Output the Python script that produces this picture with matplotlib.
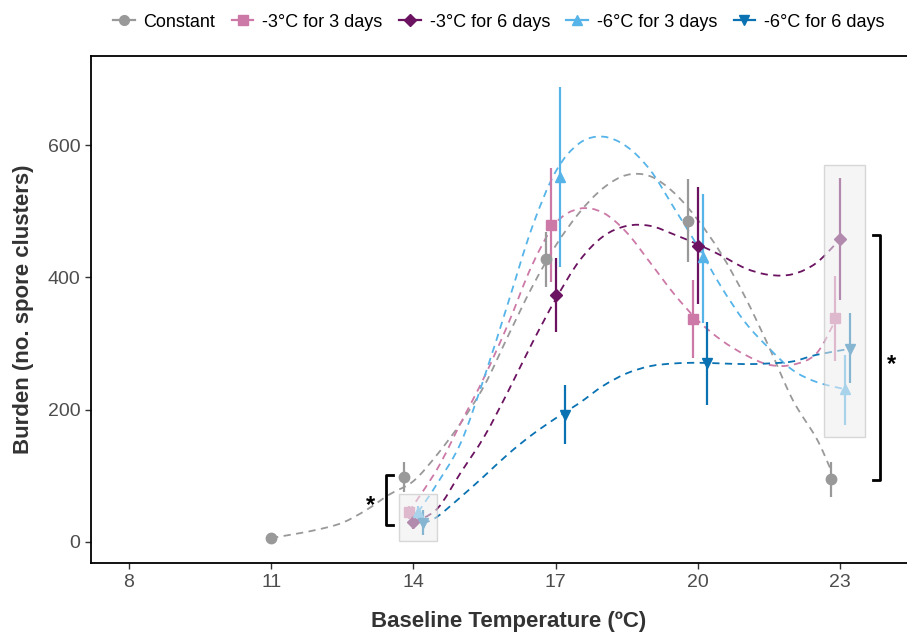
import numpy as np
import matplotlib
matplotlib.use("Agg")
import matplotlib.pyplot as plt
from matplotlib.lines import Line2D
from matplotlib.patches import Rectangle, PathPatch
from matplotlib.path import Path

plt.rcParams["font.family"] = ["Liberation Sans", "DejaVu Sans"]

# data
temps = [11, 14, 17, 20, 23]
groups = ["Constant", "-3°C for 3 days", "-3°C for 6 days", "-6°C for 3 days", "-6°C for 6 days"]
colors = ["#999999", "#CC79A7", "#6B1260", "#56B4E9", "#0A72B2"]
markers = ["o", "s", "D", "^", "v"]

const_mean = [6, 98, 428, 485, 95]
const_lo = [1, 76, 385, 423, 68]
const_hi = [11, 121, 469, 549, 121]

c3d3_mean = [45, 479, 337, 338]
c3d3_lo = [35, 393, 278, 274]
c3d3_hi = [55, 565, 396, 402]

c3d6_mean = [30, 373, 447, 458]
c3d6_lo = [20, 317, 360, 366]
c3d6_hi = [40, 429, 537, 551]

c6d3_mean = [45, 552, 431, 231]
c6d3_lo = [35, 416, 331, 177]
c6d3_hi = [55, 688, 527, 283]

c6d6_mean = [28, 192, 270, 292]
c6d6_lo = [10, 148, 207, 240]
c6d6_hi = [48, 237, 333, 346]

# smoothed trend lines
const_cx = [11, 11.5, 12, 12.5, 13, 13.5, 14, 14.5, 15, 15.5, 16, 16.5, 17, 17.5,
            18, 18.5, 19, 19.5, 20, 20.5, 21, 21.5, 22, 22.5, 22.8]
const_cy = [6, 12, 19, 29, 48, 72, 92, 132, 180, 237, 312, 385, 448, 498,
            535, 555, 553, 528, 487, 435, 370, 295, 215, 157, 110]

c3d3_cx = [13.9, 14.5, 15, 15.5, 16, 16.5, 17, 17.5, 18, 18.5, 19, 19.5, 20,
           20.5, 21, 21.5, 22, 22.5, 22.9]
c3d3_cy = [45, 110, 180, 250, 330, 418, 482, 504, 498, 468, 422, 375, 335,
           305, 283, 268, 268, 285, 335]

c3d6_cx = [14, 14.5, 15, 15.5, 16, 16.5, 17, 17.5, 18, 18.5, 19, 19.5, 20,
           20.5, 21, 21.5, 22, 22.5, 23]
c3d6_cy = [30, 50, 105, 160, 228, 300, 367, 425, 462, 478, 478, 465, 450,
           433, 414, 404, 405, 422, 458]

c6d3_cx = [14.1, 14.5, 15, 15.5, 16, 16.5, 17, 17.5, 18, 18.5, 19, 19.5, 20,
           20.5, 21, 21.5, 22, 22.5, 23.1]
c6d3_cy = [45, 88, 150, 250, 362, 475, 560, 603, 613, 598, 562, 505, 447,
           385, 332, 293, 260, 242, 231]

c6d6_cx = [14.2, 14.5, 15, 15.5, 16, 16.5, 17, 17.5, 18, 18.5, 19, 19.5, 20,
           20.5, 21, 21.5, 22, 22.5, 23.2]
c6d6_cy = [28, 38, 68, 100, 133, 162, 187, 210, 236, 255, 266, 270, 271,
           270, 269, 270, 273, 283, 292]

series = [
    (temps, const_mean, const_lo, const_hi, const_cx, const_cy),
    (temps[1:], c3d3_mean, c3d3_lo, c3d3_hi, c3d3_cx, c3d3_cy),
    (temps[1:], c3d6_mean, c3d6_lo, c3d6_hi, c3d6_cx, c3d6_cy),
    (temps[1:], c6d3_mean, c6d3_lo, c6d3_hi, c6d3_cx, c6d3_cy),
    (temps[1:], c6d6_mean, c6d6_lo, c6d6_hi, c6d6_cx, c6d6_cy),
]
dodge = [-0.2, -0.1, 0.0, 0.1, 0.2]


def smooth_path(xs, ys):
    # catmull-rom through the read points, drawn as bezier segments
    p = np.column_stack([xs, ys]).astype(float)
    verts = [p[0]]
    codes = [Path.MOVETO]
    n = len(p)
    for k in range(n - 1):
        p0 = p[k - 1] if k > 0 else p[k]
        p3 = p[k + 2] if k + 2 < n else p[k + 1]
        c1 = p[k] + (p[k + 1] - p0) / 6
        c2 = p[k + 1] - (p3 - p[k]) / 6
        verts += [c1, c2, p[k + 1]]
        codes += [Path.CURVE4] * 3
    return Path(verts, codes)


fig = plt.figure(figsize=(9.07, 6.32), dpi=100)
ax = fig.add_axes([0.1003, 0.109, 0.92, 0.8024])

for i, (x, m, lo, hi, cx, cy) in enumerate(series):
    x = np.array(x, dtype=float)
    # only one group at 11, so it sits centred
    xd = np.where(x == 11, x, x + dodge[i])
    ax.add_patch(PathPatch(smooth_path(cx, cy), fill=False, ls=(0, (4, 3)), lw=1.3,
                           edgecolor=colors[i], zorder=2))
    ax.vlines(xd, lo, hi, color=colors[i], lw=1.6, zorder=3)
    ax.plot(xd, m, ls="none", marker=markers[i], ms=7.5 if markers[i] != "D" else 6.5,
            color=colors[i], zorder=4)

# highlight boxes
for (x0, y0, w, h) in [(13.7, 1, 0.8, 71), (22.67, 159, 0.85, 411)]:
    ax.add_patch(Rectangle((x0, y0), w, h, facecolor="#EEEEEE", alpha=0.55,
                           edgecolor="#BBBBBB", lw=1, zorder=5))

# significance brackets
ax.plot([13.56, 13.43, 13.43, 13.56], [101, 101, 26, 26], color="black", lw=2, zorder=6)
ax.text(13.1, 55, "*", fontsize=17, fontweight="bold", ha="center", va="center")
ax.plot([23.69, 23.84, 23.84, 23.69], [464, 464, 94, 94], color="black", lw=2, zorder=6)
ax.text(24.09, 268, "*", fontsize=17, fontweight="bold", ha="center", va="center")

ax.set_xlim(7.2, 24.8)
ax.set_ylim(-32, 735)
ax.set_xticks([8, 11, 14, 17, 20, 23])
ax.set_yticks([0, 200, 400, 600])
ax.tick_params(labelsize=14, labelcolor="#4D4D4D", color="#333333", length=4, width=1)
for s in ax.spines.values():
    s.set_linewidth(1.3)
    s.set_color("black")

ax.set_xlabel("Baseline Temperature (ºC)", fontsize=16, fontweight="bold",
              color="#333333", labelpad=15)
ax.set_ylabel("Burden (no. spore clusters)", fontsize=16, fontweight="bold",
              color="#333333", labelpad=10)

handles = [Line2D([], [], color=c, marker=mk, ms=7 if mk != "D" else 6, lw=1.6)
           for c, mk in zip(colors, markers)]
fig.legend(handles, groups, loc="center", bbox_to_anchor=(0.55, 0.965), ncol=5,
           frameon=False, fontsize=13, handlelength=1.2, handletextpad=0.5,
           columnspacing=0.9)

fig.savefig("out.png", dpi=100)
